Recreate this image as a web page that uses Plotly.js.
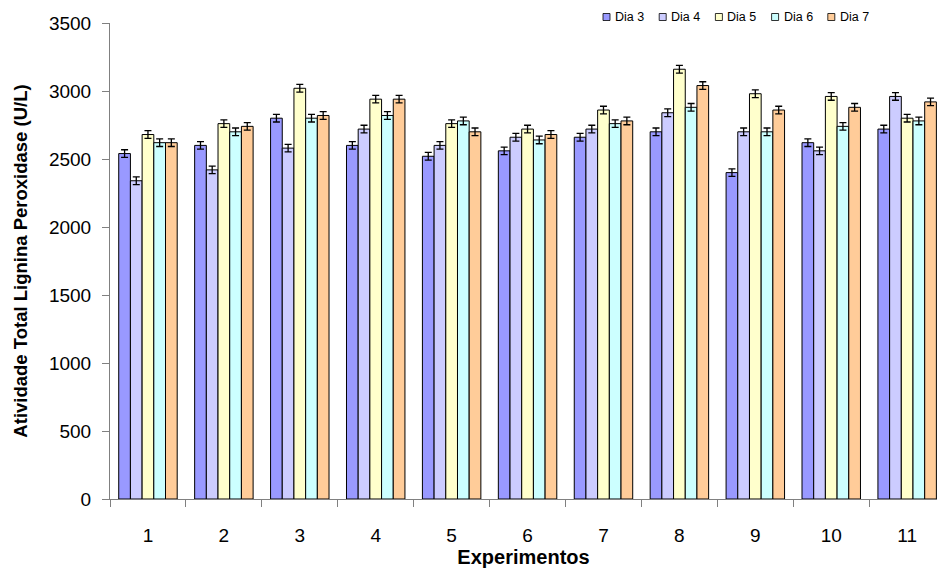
<!DOCTYPE html>
<html>
<head>
<meta charset="utf-8">
<script src="https://cdn.plot.ly/plotly-3.0.1.min.js"></script>
<style>html,body{margin:0;padding:0;background:#fff;}#chart{width:937px;height:572px;}</style>
</head>
<body>
<div id="chart"></div>
<script>
const categories = ["1","2","3","4","5","6","7","8","9","10","11"];
const seriesNames = ["Dia 3","Dia 4","Dia 5","Dia 6","Dia 7"];
const seriesColors = ["#9999FF","#CCCCFF","#FFFFCC","#CCFFFF","#FFCC99"];
const dia3 = [2540,2600,2800,2600,2520,2560,2660,2700,2400,2620,2720];
const dia4 = [2340,2420,2580,2720,2600,2660,2720,2840,2700,2560,2960];
const dia5 = [2680,2760,3020,2940,2760,2720,2860,3160,2980,2960,2800];
const dia6 = [2620,2700,2800,2820,2780,2640,2760,2880,2700,2740,2780];
const dia7 = [2620,2740,2820,2940,2700,2680,2780,3040,2860,2880,2920];
const errDia3 = [28,28,28,28,28,28,28,28,28,28,28];
const errDia4 = [28,28,28,28,28,28,28,28,28,28,28];
const errDia5 = [28,28,28,28,28,28,28,28,28,28,28];
const errDia6 = [28,28,28,28,28,28,28,28,28,28,28];
const errDia7 = [28,28,28,28,28,28,28,28,28,28,28];

const seriesValues = [dia3,dia4,dia5,dia6,dia7];
const seriesErrors = [errDia3,errDia4,errDia5,errDia6,errDia7];

const W = 937, H = 572;
const mL = 110, mR = 0, mT = 23, mB = 73;
const plotW = W - mL - mR, plotH = H - mT - mB;
const px2x = p => (p - mL) / plotW;
const py2y = p => (H - mB - p) / plotH;

const traces = seriesNames.map((name, i) => ({
  type: 'bar',
  name: name,
  x: categories,
  y: seriesValues[i],
  marker: {color: seriesColors[i], line: {color: '#000000', width: 1}},
  error_y: {type: 'data', array: seriesErrors[i], visible: true, color: '#000000', thickness: 1.3, width: 3.5},
  showlegend: false,
  hoverinfo: 'x+y'
}));

// custom compact legend built from series names/colours
const shapes = [];
const annotations = [];
const legStart = 603, legStep = 56.2, box = 7, legY = 17;
seriesNames.forEach((name, i) => {
  const bx = legStart + i * legStep;
  shapes.push({type: 'rect', xref: 'paper', yref: 'paper',
    x0: px2x(bx), x1: px2x(bx + box), y0: py2y(legY + box/2), y1: py2y(legY - box/2),
    fillcolor: seriesColors[i], line: {color: '#000000', width: 0.8}});
  annotations.push({xref: 'paper', yref: 'paper', x: px2x(bx + box + 3), y: py2y(legY),
    xanchor: 'left', yanchor: 'middle', text: name, showarrow: false,
    font: {family: 'Liberation Sans, Arial, sans-serif', size: 12.5, color: '#000000'}});
});

const layout = {
  width: W, height: H,
  margin: {l: mL, r: mR, t: mT, b: mB, pad: 0},
  paper_bgcolor: '#ffffff', plot_bgcolor: '#ffffff',
  barmode: 'group', bargap: 0.23, bargroupgap: 0,
  font: {family: 'Liberation Sans, Arial, sans-serif', color: '#000000'},
  xaxis: {
    type: 'category',
    range: [-0.5, -0.5 + plotW / 75.92],
    tickson: 'boundaries',
    ticks: 'outside', ticklen: 7, tickcolor: '#808080', tickwidth: 1,
    showline: true, linecolor: '#808080', linewidth: 1,
    showgrid: false, zeroline: false,
    tickfont: {family: 'Liberation Sans, Arial, sans-serif', size: 19, color: '#000000'},
    ticklabelstandoff: 19,
    title: {text: '<b>Experimentos</b>', font: {family: 'Liberation Sans, Arial, sans-serif', size: 20, color: '#000000'}, standoff: 1}
  },
  yaxis: {
    range: [0, 3500], dtick: 500, tick0: 0,
    ticks: 'outside', ticklen: 7, tickcolor: '#808080', tickwidth: 1,
    showline: true, linecolor: '#808080', linewidth: 1,
    showgrid: false, zeroline: false,
    tickfont: {family: 'Liberation Sans, Arial, sans-serif', size: 19, color: '#000000'},
    ticklabelstandoff: 7,
    title: {text: '<b>Atividade Total Lignina Peroxidase (U/L)</b>', font: {family: 'Liberation Sans, Arial, sans-serif', size: 18.5, color: '#000000'}, standoff: 16}
  },
  shapes: shapes,
  annotations: annotations,
  showlegend: false
};

Plotly.newPlot('chart', traces, layout, {displayModeBar: false, responsive: false});
</script>
</body>
</html>
